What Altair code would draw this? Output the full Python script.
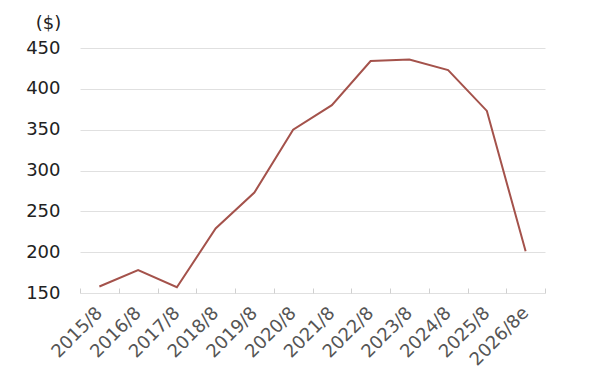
import altair as alt
import pandas as pd

periods = ["2015/8", "2016/8", "2017/8", "2018/8", "2019/8", "2020/8",
           "2021/8", "2022/8", "2023/8", "2024/8", "2025/8", "2026/8e"]
values = [158, 178, 157, 229, 273, 350, 380, 434, 436, 423, 373, 201]

df = pd.DataFrame({"period": periods, "value": values})

font = "DejaVu Sans"

chart = alt.Chart(df).mark_line(color="#A4524B", strokeWidth=2).encode(
    x=alt.X("period:O", sort=periods, bandPosition=0.5,
            scale=alt.Scale(type="band", paddingInner=0, paddingOuter=0),
            axis=alt.Axis(title=None, labelAngle=-45, labelAlign="right",
                          labelBaseline="middle", labelFontSize=18,
                          labelColor="#555555", labelFont=font,
                          tickBand="extent", tickColor="#d0d0d0", tickSize=5,
                          domain=False, offset=-5, labelPadding=17, grid=False)),
    y=alt.Y("value:Q",
            scale=alt.Scale(domain=[150, 450], nice=False, zero=False),
            axis=alt.Axis(values=[150, 200, 250, 300, 350, 400, 450],
                          title="($)", titleAngle=0, titleX=-32, titleY=-25,
                          titleAlign="center", titleBaseline="middle",
                          titleFontSize=18, titleFontWeight="normal",
                          titleFont=font, titleColor="#222222",
                          labelFontSize=18, labelColor="#222222", labelFont=font,
                          labelPadding=20, ticks=False, domain=False,
                          gridColor="#e0e0e0")),
).properties(
    width=465, height=245,
    padding={"left": 72, "top": 40, "right": 47, "bottom": 90},
    autosize="none",
).configure_view(stroke=None)

chart.save("out.html", embed_options={"renderer": "svg", "actions": False})
